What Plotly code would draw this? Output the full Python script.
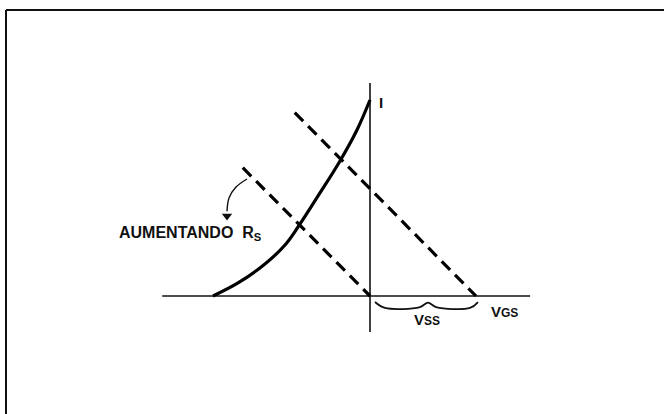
import plotly.graph_objects as go

# Transfer curve (VGS, I), in units where VSS = 1
curve_vgs = [-1.481, -1.245, -0.991, -0.802, -0.679, -0.472, -0.283, -0.123, 0.0]
curve_i = [0.0, 0.123, 0.302, 0.481, 0.651, 0.972, 1.274, 1.566, 1.849]

# Bias (load) lines, dashed
line_hi_x = [-0.71, 1.0]
line_hi_y = [1.73, 0.0]
line_lo_x = [-1.20, 0.0]
line_lo_y = [1.21, 0.0]

# Axes
haxis_x = [-1.96, 1.51]
haxis_y = [0.0, 0.0]
vaxis_x = [0.0, 0.0]
vaxis_y = [-0.34, 2.01]

# Curved arrow "AUMENTANDO RS"
arc_x = [-1.160, -1.264, -1.330, -1.349]
arc_y = [1.104, 1.028, 0.925, 0.800]
arrow_tip_x = [-1.349]
arrow_tip_y = [0.755]

# Brace under VSS
brace_x = [0.047, 0.142, 0.472, 0.547, 0.623, 0.943, 1.019]
brace_y = [-0.057, -0.113, -0.104, -0.062, -0.104, -0.113, -0.057]

# Labels
labels = [
    ("I", 0.104, 1.83, 15, "center"),
    ("AUMENTANDO  R<sub>S</sub>", -2.39, 0.585, 16, "left"),
    ("V<span style='font-size:12px'>SS</span>", 0.537, -0.225, 15, "center"),
    ("V<span style='font-size:12px'>GS</span>", 1.125, -0.15, 15, "left"),
]

FONT = "Liberation Sans"
fig = go.Figure()
ax_line = dict(color="#111", width=1.6)
fig.add_trace(go.Scatter(x=haxis_x, y=haxis_y, mode="lines", line=ax_line))
fig.add_trace(go.Scatter(x=vaxis_x, y=vaxis_y, mode="lines", line=ax_line))
fig.add_trace(go.Scatter(x=curve_vgs, y=curve_i, mode="lines",
                         line=dict(color="#000", width=3.2, shape="spline", smoothing=1.0)))
dash = dict(color="#000", width=3.2, dash="12px,7px")
fig.add_trace(go.Scatter(x=line_hi_x, y=line_hi_y, mode="lines", line=dash))
fig.add_trace(go.Scatter(x=line_lo_x, y=line_lo_y, mode="lines", line=dash))
fig.add_trace(go.Scatter(x=arc_x, y=arc_y, mode="lines",
                         line=dict(color="#111", width=1.4, shape="spline")))
fig.add_trace(go.Scatter(x=arrow_tip_x, y=arrow_tip_y, mode="markers",
                         marker=dict(symbol="triangle-down", size=9, color="#111")))
fig.add_trace(go.Scatter(x=brace_x, y=brace_y, mode="lines",
                         line=dict(color="#111", width=1.8, shape="spline")))

for txt, x, y, size, anchor in labels:
    fig.add_annotation(x=x, y=y, text="<b>" + txt + "</b>", showarrow=False,
                       xanchor=anchor, yanchor="middle",
                       font=dict(family=FONT, size=size, color="#111"))

# Frame of the scanned figure
fig.add_shape(type="line", xref="paper", yref="paper", x0=6/664, x1=1.0,
              y0=1-10/414, y1=1-10/414, line=dict(color="#111", width=2))
fig.add_shape(type="line", xref="paper", yref="paper", x0=6/664, x1=6/664,
              y0=0, y1=1-10/414, line=dict(color="#111", width=2))

fig.update_layout(
    width=664, height=414, showlegend=False,
    margin=dict(l=0, r=0, t=0, b=0),
    paper_bgcolor="white", plot_bgcolor="white",
    xaxis=dict(range=[-370/106, 294/106], visible=False, fixedrange=True),
    yaxis=dict(range=[-118/106, 296/106], visible=False, fixedrange=True),
)
fig.write_html("out.html", config={"displayModeBar": False},
               post_script="document.body.style.margin='0';document.body.style.overflow='hidden';")
